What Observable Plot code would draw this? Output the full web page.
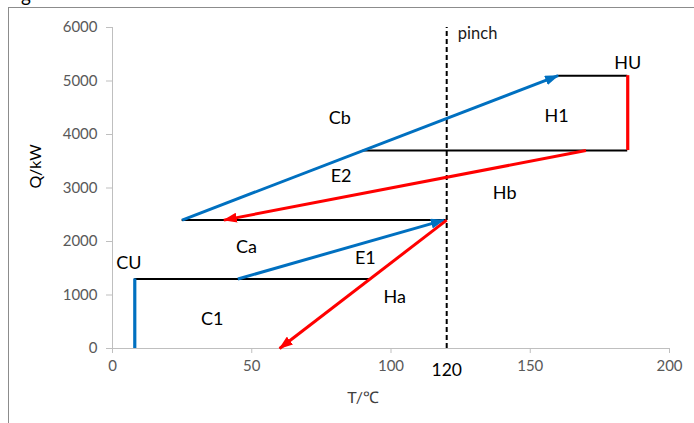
<!DOCTYPE html>
<html>
<head>
<meta charset="utf-8">
<script src="https://cdn.jsdelivr.net/npm/d3@7"></script>
<script src="https://cdn.jsdelivr.net/npm/@observablehq/plot@0.6"></script>
<style>
  html, body { margin: 0; padding: 0; background: #fff; overflow: hidden; }
  #wrap { position: relative; width: 694px; height: 423px; overflow: hidden; font-family: Lato, "Open Sans", sans-serif; }
  #frame { position: absolute; left: 8px; top: 7px; width: 720px; height: 440px; border-left: 1.5px solid #8c8c8c; border-top: 1.5px solid #8c8c8c; pointer-events: none; }
  #clipped { position: absolute; left: 21px; top: -17px; font-size: 19px; color: #000; }
  svg { display: block; }
</style>
</head>
<body>
<div id="wrap"><div id="clipped">g</div><div id="frame"></div></div>
<script>
// ---- data ----
const tTicks = [0, 50, 100, 150, 200];
const qTicks = [0, 1000, 2000, 3000, 4000, 5000, 6000];
const pinchT = 120;

// black horizontal lines (T from, T to, Q)
const hLineT1 = [8, 25, 90, 160];
const hLineT2 = [92.5, 120, 185, 185];
const hLineQ  = [1300, 2400, 3700, 5100];

// utility vertical lines
const utilName = ["CU", "HU"];
const utilT  = [8, 185];
const utilQ1 = [0, 3700];
const utilQ2 = [1300, 5100];
const utilColor = ["#0070C0", "#FF0000"];

// cold (blue) arrows
const coldName = ["E1", "Cb"];
const coldT1 = [45, 25];
const coldQ1 = [1300, 2400];
const coldT2 = [119, 160];
const coldQ2 = [2400, 5100];

// hot (red) arrows
const hotName = ["Ha", "Hb"];
const hotT1 = [120, 170];
const hotQ1 = [2400, 3700];
const hotT2 = [60, 40];
const hotQ2 = [0, 2400];

// region labels
const labText = ["HU", "H1", "Cb", "E2", "Hb", "Ca", "E1", "CU", "Ha", "C1"];
const labT = [185, 159.5, 81.6, 82.1, 140.8, 48.1, 90.8, 5.9, 101.3, 35.8];
const labQ = [5330, 4340, 4310, 3215, 2905, 1895, 1695, 1595, 955, 540];

const pinchLabel = "pinch";
const pinchLabelT = 124;
const pinchLabelQ = 5880;

// ---- helpers ----
const blue = "#0070C0", red = "#FF0000";
function arrowHead(color) {
  const m = d3.create("svg:marker")
    .attr("viewBox", "-13 -5 14 10")
    .attr("markerWidth", 14)
    .attr("markerHeight", 10)
    .attr("markerUnits", "userSpaceOnUse")
    .attr("orient", "auto")
    .attr("refX", 0)
    .attr("refY", 0);
  m.append("path").attr("d", "M-13,-5L1,0L-13,5Z").attr("fill", color).attr("stroke", "none");
  return m.node();
}
const idx = (a) => a.map((_, i) => i);

const chart = Plot.plot({
  width: 694,
  height: 423,
  marginLeft: 112,
  marginRight: 25,
  marginTop: 27,
  marginBottom: 75,
  style: { fontFamily: "Lato, 'Open Sans', sans-serif", background: "transparent", overflow: "visible" },
  x: { domain: [0, 200] },
  y: { domain: [0, 6000] },
  marks: [
    Plot.ruleX([0], { stroke: "#bfbfbf", strokeWidth: 1 }),
    Plot.ruleY([0], { stroke: "#bfbfbf", strokeWidth: 1 }),
    Plot.axisY({ ticks: qTicks, tickFormat: d => String(d), tickSize: 6, tickPadding: 9, stroke: "#bfbfbf", fill: "#595959", fontSize: 15, label: null }),
    Plot.axisX({ ticks: tTicks, tickFormat: d => String(d), tickSize: 5, tickPadding: 7, stroke: "#bfbfbf", fill: "#595959", fontSize: 15, label: null }),
    Plot.ruleX([pinchT], { y1: 0, y2: 6000, stroke: "#000", strokeWidth: 2, strokeDasharray: "5,3" }),
    Plot.ruleY(idx(hLineQ), { x1: i => hLineT1[i], x2: i => hLineT2[i], y: i => hLineQ[i], stroke: "#000", strokeWidth: 2 }),
    Plot.ruleX([0], { x: () => utilT[0], y1: () => utilQ1[0], y2: () => utilQ2[0], stroke: utilColor[0], strokeWidth: 3.2 }),
    Plot.ruleX([1], { x: () => utilT[1], y1: () => utilQ1[1], y2: () => utilQ2[1], stroke: utilColor[1], strokeWidth: 3.2 }),
    Plot.link(idx(coldName), { x1: i => coldT1[i], y1: i => coldQ1[i], x2: i => coldT2[i], y2: i => coldQ2[i], stroke: blue, strokeWidth: 3, markerEnd: arrowHead }),
    Plot.link(idx(hotName), { x1: i => hotT1[i], y1: i => hotQ1[i], x2: i => hotT2[i], y2: i => hotQ2[i], stroke: red, strokeWidth: 3, markerEnd: arrowHead }),
    Plot.text(idx(labText), { x: i => labT[i], y: i => labQ[i], text: i => labText[i], fontSize: 18, fill: "#000" }),
    Plot.text([pinchLabel], { x: pinchLabelT, y: pinchLabelQ, text: d => d, textAnchor: "start", fontSize: 16.5, fill: "#1a1a1a" }),
    Plot.text([pinchT], { x: d => d, y: 0, dy: 22, text: d => String(d), fontSize: 17.5, fill: "#000" }),
    Plot.text(["T/℃"], { x: 90, y: 0, dy: 49, text: d => d, fontSize: 16, fill: "#404040" }),
    Plot.text(["Q/kW"], { frameAnchor: "left", y: 2990, dx: -77, rotate: -90, text: d => d, fontSize: 16, fill: "#000" })
  ]
});
document.getElementById("wrap").insertBefore(chart, document.getElementById("clipped"));
</script>
</body>
</html>
